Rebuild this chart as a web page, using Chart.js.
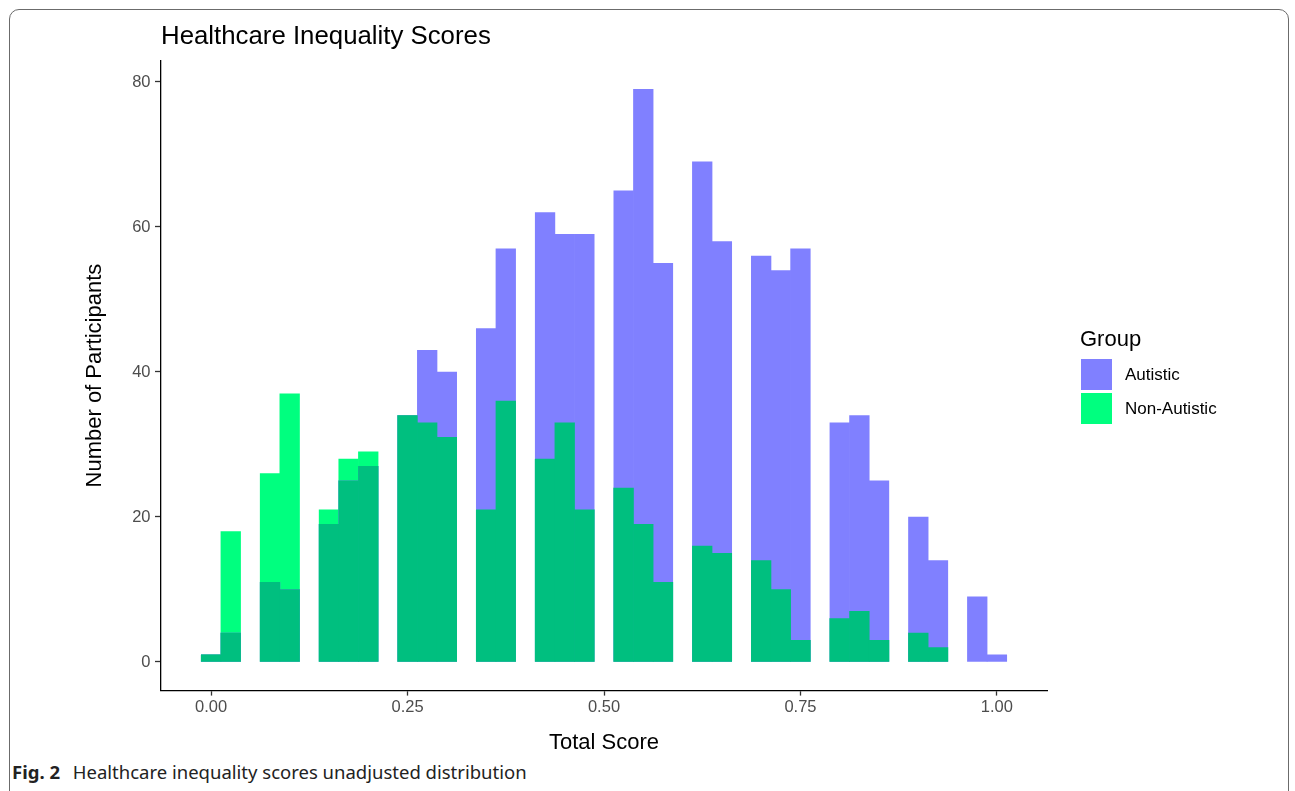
<!DOCTYPE html>
<html>
<head>
<meta charset="utf-8">
<title>Healthcare Inequality Scores</title>
<script src="https://cdn.jsdelivr.net/npm/chart.js@4"></script>
<style>
    html, body { margin: 0; padding: 0; background: #fff; overflow: hidden; }
    #frame {
        position: absolute; left: 9px; top: 9px; width: 1280px; height: 830px;
        border: 1px solid #6b6b6b; border-radius: 10px; box-sizing: border-box;
    }
    #chart { position: absolute; left: 0; top: 0; }
    #caption {
        position: absolute; left: 12px; top: 759px; padding-right: 4px; background: #fff;
        font-family: 'Noto Sans', 'Open Sans', sans-serif; font-size: 18.5px; color: #222;
    }
    #caption b { margin-right: 8px; }
</style>
</head>
<body>
<div id="frame"></div>
<canvas id="chart" width="1295" height="791"></canvas>
<div id="caption"><b>Fig. 2</b> Healthcare inequality scores unadjusted distribution</div>

<script>
// ===== Healthcare inequality scores - overlapping histogram (Chart.js) =====

// bin centres of Total Score (binwidth 0.025)
const binCenters = [
    0.000, 0.025, 0.050, 0.075, 0.100, 0.125, 0.150, 0.175, 0.200, 0.225,
    0.250, 0.275, 0.300, 0.325, 0.350, 0.375, 0.400, 0.425, 0.450, 0.475,
    0.500, 0.525, 0.550, 0.575, 0.600, 0.625, 0.650, 0.675, 0.700, 0.725,
    0.750, 0.775, 0.800, 0.825, 0.850, 0.875, 0.900, 0.925, 0.950, 0.975,
    1.000,
];

// counts per bin
const autistic = [
    1, 4, 0, 11, 10, 0, 19, 25, 27, 0,
    34, 43, 40, 0, 46, 57, 0, 62, 59, 59,
    0, 65, 79, 55, 0, 69, 58, 0, 56, 54,
    57, 0, 33, 34, 25, 0, 20, 14, 0, 9,
    1,
];
const nonAutistic = [
    1, 18, 0, 26, 37, 0, 21, 28, 29, 0,
    34, 33, 31, 0, 21, 36, 0, 28, 33, 21,
    0, 24, 19, 11, 0, 16, 15, 0, 14, 10,
    3, 0, 6, 7, 3, 0, 4, 2, 0, 0,
    0,
];

const groups = ['Autistic', 'Non-Autistic'];
const xTicks = [0, 0.25, 0.5, 0.75, 1];
const yTicks = [0, 20, 40, 60, 80];

const COLORS = {
    autistic: '#8080ff',
    nonAutistic: '#00ff7f',
    overlap: '#00bf7f',
};
const FONT = "'Liberation Sans', Arial, sans-serif";

/** Turn a count array into {x, y} points on the bin centres (empty bins -> no bar) */
function toPoints(values) {
    return values.map((v, i) => ({ x: binCenters[i], y: v > 0 ? v : null }));
}

// where both groups have participants the bars overlap (darker green)
const overlap = autistic.map((v, i) => Math.min(v, nonAutistic[i]));

/** Title at the panel's left edge and the "Group" legend on the right */
const figureText = {
    id: 'figureText',
    afterDraw(chart) {
        const { ctx, chartArea } = chart;
        ctx.save();
        ctx.fillStyle = '#000';
        ctx.textAlign = 'left';
        ctx.textBaseline = 'alphabetic';
        ctx.font = `25.8px ${FONT}`;
        ctx.fillText('Healthcare Inequality Scores', chartArea.left, 44);

        ctx.font = `22px ${FONT}`;
        ctx.fillText('Group', 1080, 346);

        const swatches = [COLORS.autistic, COLORS.nonAutistic];
        ctx.font = `17px ${FONT}`;
        ctx.textBaseline = 'middle';
        groups.forEach((name, i) => {
            const top = 359 + i * 34;
            ctx.fillStyle = swatches[i];
            ctx.fillRect(1081, top, 31, 31);
            ctx.fillStyle = '#000';
            ctx.fillText(name, 1125, top + 16);
        });
        ctx.restore();
    },
};

const barStyle = {
    grouped: false,
    barPercentage: 1,
    categoryPercentage: 1,
    borderWidth: 0,
};

new Chart(document.getElementById('chart'), {
    type: 'bar',
    data: {
        datasets: [
            // first dataset is painted last, so the overlap sits on top
            { label: 'Both', data: toPoints(overlap), backgroundColor: COLORS.overlap, ...barStyle },
            { label: groups[0], data: toPoints(autistic), backgroundColor: COLORS.autistic, ...barStyle },
            { label: groups[1], data: toPoints(nonAutistic), backgroundColor: COLORS.nonAutistic, ...barStyle },
        ],
    },
    options: {
        responsive: false,
        animation: false,
        events: [],
        layout: { padding: { top: 60.6, right: 248, bottom: 0, left: 0 } },
        plugins: {
            legend: { display: false },
            title: { display: false },
            tooltip: { enabled: false },
        },
        scales: {
            x: {
                type: 'linear',
                min: -0.06375,
                max: 1.06375,
                offset: false,
                border: { display: true, color: '#000', width: 1.3 },
                grid: {
                    offset: false,
                    drawOnChartArea: false,
                    drawTicks: true,
                    tickLength: 5,
                    tickWidth: 1.3,
                    tickColor: '#333',
                },
                afterBuildTicks: (axis) => { axis.ticks = xTicks.map(v => ({ value: v })); },
                afterFit: (axis) => { axis.height = 100.4; },
                ticks: {
                    color: '#4d4d4d',
                    padding: 2,
                    maxRotation: 0,
                    font: { size: 16.5, family: FONT },
                    callback: (v) => Number(v).toFixed(2),
                },
                title: {
                    display: true,
                    text: 'Total Score',
                    color: '#000',
                    font: { size: 22, family: FONT },
                    padding: { top: 0, bottom: 34.8 },
                },
            },
            y: {
                type: 'linear',
                min: -3.95,
                max: 82.95,
                border: { display: true, color: '#000', width: 1.3 },
                grid: {
                    drawOnChartArea: false,
                    drawTicks: true,
                    tickLength: 6,
                    tickWidth: 1.3,
                    tickColor: '#333',
                },
                afterBuildTicks: (axis) => { axis.ticks = yTicks.map(v => ({ value: v })); },
                afterFit: (axis) => { axis.width = 161; },
                ticks: {
                    color: '#4d4d4d',
                    padding: 4.5,
                    font: { size: 16.5, family: FONT },
                },
                title: {
                    display: true,
                    text: 'Number of Participants',
                    color: '#000',
                    font: { size: 22, family: FONT },
                    padding: { top: 82, bottom: 0 },
                },
            },
        },
    },
    plugins: [figureText],
});
</script>
</body>
</html>
